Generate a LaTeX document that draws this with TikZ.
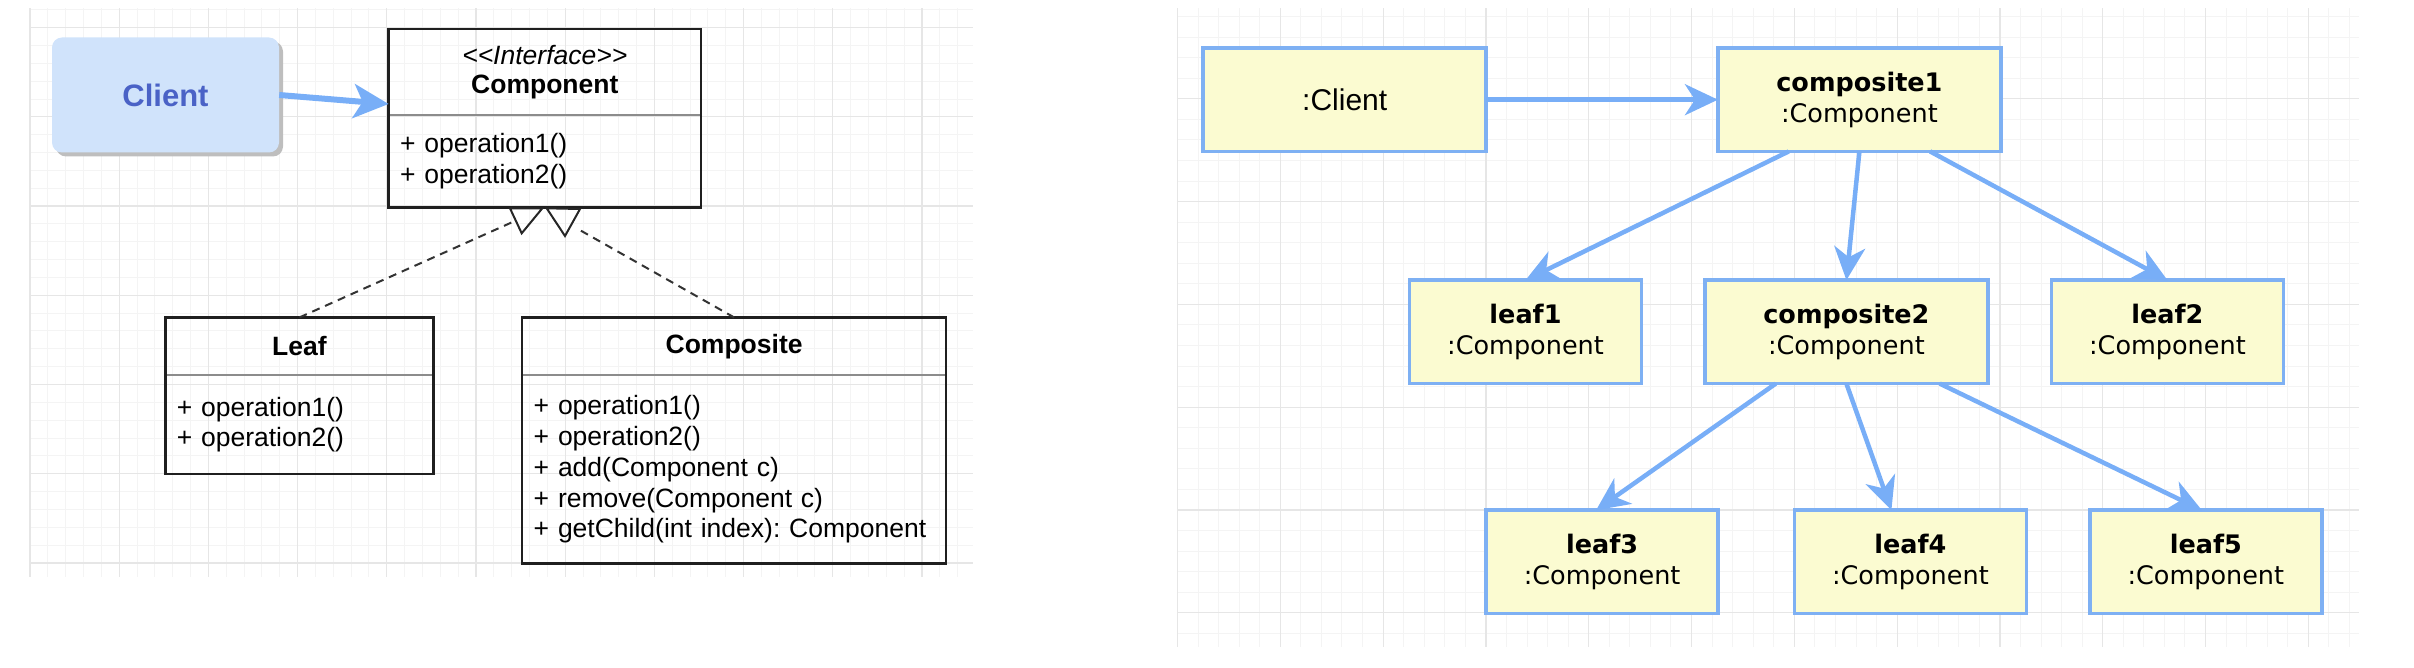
\documentclass[tikz,border=0pt]{standalone}
\usepackage{fontspec}
\setmainfont{Liberation Sans}
\newfontfamily\objfont{DejaVu Sans}
\usetikzlibrary{arrows.meta, positioning, calc, shadows}
\frenchspacing

\definecolor{gridmajor}{HTML}{E6E6E6}
\definecolor{gridminor}{HTML}{F4F4F4}
\definecolor{clientfill}{HTML}{D0E3FB}
\definecolor{clienttext}{HTML}{4A62C6}
\definecolor{shadowgray}{HTML}{BEBEBE}
\definecolor{linkblue}{HTML}{78AEF7}
\definecolor{objfill}{HTML}{FBFBD1}
\definecolor{objborder}{HTML}{7EB0F3}

\begin{document}
\begin{tikzpicture} [
						x=1pt, y=-1pt,
						majorline/.style={draw=gridmajor, line width=1.2pt},
						minorline/.style={draw=gridminor, line width=1pt},
						clientbox/.style={rounded corners=10pt, fill=clientfill, minimum width=227pt, minimum height=115pt,
							text=clienttext, font=\fontsize{31}{31}\selectfont\bfseries,
							drop shadow={shadow xshift=4pt, shadow yshift=-4pt, fill=shadowgray, opacity=1}},
						umlhead/.style={inner sep=0pt, outer sep=0pt, align=center, font=\fontsize{26.5}{29}\selectfont},
						umlbody/.style={inner xsep=11.5pt, inner ysep=0pt, outer sep=0pt, align=left, font=\fontsize{26.5}{30.8}\selectfont},
						umlframe/.style={draw=black!88, line width=2.5pt},
						umldivider/.style={draw=black!45, line width=1.5pt},
						realize/.style={draw=black!80, line width=2pt, dash pattern=on 8pt off 6pt},
						realizetip/.style={draw=black!85, line width=2pt, line join=miter},
						uses/.style={draw=linkblue, line width=6pt, -{Stealth[length=35pt, width=34pt, inset=9pt]}},
						obj/.style={draw=objborder, fill=objfill, line width=3.5pt, outer sep=0pt, align=center,
							minimum width=232pt, minimum height=103.5pt, font=\objfont\fontsize{25.5}{31}\selectfont},
						wideobj/.style={obj, minimum width=283pt},
						link/.style={draw=linkblue, line width=4.5pt, -{Stealth[length=33pt, width=31pt, inset=10pt]}}
					]

% grid, left half
\foreach \i in {0,...,52}
	\draw[minorline] ({30+17.84*\i},8.5) -- ({30+17.84*\i},577);
\foreach \j in {-1,...,30}
	\draw[minorline] (30,{27.7+17.84*\j}) -- (973,{27.7+17.84*\j});
\foreach \i in {0,...,10}
	\draw[majorline] ({30+89.2*\i},8.5) -- ({30+89.2*\i},577);
\foreach \j in {0,...,6}
	\draw[majorline] (30,{27.7+89.2*\j}) -- (973,{27.7+89.2*\j});

% grid, right half
\foreach \i in {0,...,57}
	\draw[minorline] ({1177.5+20.56*\i},8.5) -- ({1177.5+20.56*\i},647);
\foreach \j in {-4,...,26}
	\draw[minorline] (1177.5,{98.8+20.56*\j}) -- (2359,{98.8+20.56*\j});
\foreach \i in {0,...,11}
	\draw[majorline] ({1177.5+102.8*\i},8.5) -- ({1177.5+102.8*\i},647);
\foreach \j in {0,...,5}
	\draw[majorline] (1177.5,{98.8+102.8*\j}) -- (2359,{98.8+102.8*\j});

% class diagram
\node (client) [clientbox] at (165.5,95) {Client};

\node (compohead) [umlhead, minimum width=312.4pt, minimum height=86pt] at (544.8,72)
	{{\itshape <\kern0pt<Interface>\kern0pt>}\\ \textbf{Component}};
\node (compobody) [umlbody, text width=289.4pt, minimum height=92.5pt, below=0pt of compohead]
	{+ operation1()\\ + operation2()};

\node (leafhead) [umlhead, minimum width=268.4pt, minimum height=57.6pt] at (299.5,346.2) {\textbf{Leaf}};
\node (leafbody) [umlbody, text width=245.4pt, minimum height=99.2pt, below=0pt of leafhead]
	{+ operation1()\\ + operation2()};

\node (compshead) [umlhead, minimum width=423.8pt, minimum height=57.6pt] at (734.1,346.2) {\textbf{Composite}};
\node (compsbody) [umlbody, text width=400.8pt, minimum height=188.7pt, below=0pt of compshead]
	{+ operation1()\\ + operation2()\\ + add(Component c)\\ + remove(Component c)\\ + getChild(int index): Component};

\foreach \part in {compo, leaf, comps} {
	\draw[umldivider] (\part head.south west) -- (\part head.south east);
	\draw[umlframe] (\part head.north west) rectangle (\part body.south east);
}

\coordinate (leafend) at (513.3,221.7);
\coordinate (compsend) at (576.7,228.3);
\draw[realize] (leafhead.north) -- (leafend);
\draw[realize] (compshead.north) -- (compsend);
\draw[realizetip] (510,208.3) -- (542.3,208.3) -- (521.7,233.3) -- cycle;
\draw[realizetip] (546.7,208.3) -- (580,209) -- (565,236) -- cycle;

\draw[uses] (client.east) -- ([yshift=-32pt]compohead.west);

% object diagram
\node (oclient) [wideobj, font=\fontsize{30}{31}\selectfont] at (1344.7,99.7) {:Client};
\node (c1) [wideobj, right=231.7pt of oclient] {\textbf{composite1}\\:Component};
\node (c2) [wideobj, below=128.7pt of c1, xshift=-13pt] {\textbf{composite2}\\:Component};
\node (leaf1) [obj, left=63.4pt of c2] {\textbf{leaf1}\\:Component};
\node (leaf2) [obj, right=63.5pt of c2] {\textbf{leaf2}\\:Component};
\node (leaf4) [obj, below=126.5pt of c2, xshift=64pt] {\textbf{leaf4}\\:Component};
\node (leaf3) [obj, left=76.3pt of leaf4] {\textbf{leaf3}\\:Component};
\node (leaf5) [obj, right=63.4pt of leaf4] {\textbf{leaf5}\\:Component};

\draw[link] (oclient.east) -- (c1.west);
\draw[link] ($(c1.south west)!0.25!(c1.south east)$) -- (leaf1.north);
\draw[link] (c1.south) -- (c2.north);
\draw[link] ($(c1.south west)!0.75!(c1.south east)$) -- (leaf2.north);
\draw[link] ($(c2.south west)!0.25!(c2.south east)$) -- ([xshift=-6pt]leaf3.north);
\draw[link] (c2.south) -- ([xshift=-19pt]leaf4.north);
\draw[link] ($(c2.south west)!0.83!(c2.south east)$) -- ([xshift=-4pt]leaf5.north);

\useasboundingbox (0,0) rectangle (2414,668);
\end{tikzpicture}
\end{document}
